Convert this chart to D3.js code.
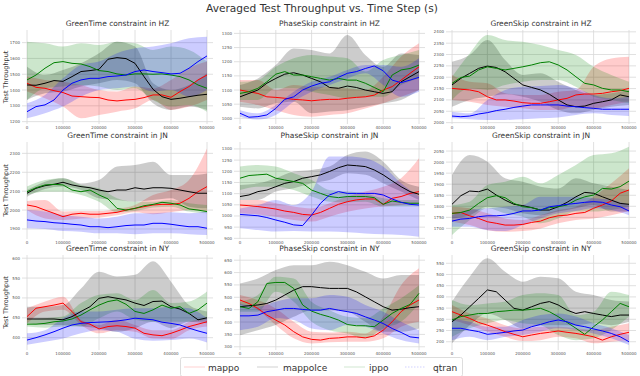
<!DOCTYPE html>
<html>
<head>
<meta charset="utf-8">
<script src="https://cdn.jsdelivr.net/npm/d3@7"></script>
<style>
body { margin: 0; background: #fff; }
svg { display: block; font-family: "DejaVu Sans", sans-serif; }
</style>
</head>
<body>
<svg id="chart" width="640" height="376"></svg>
<script>
// series order in every array: mappo, mappolce, ippo, qtran
var algos = ["mappo", "mappolce", "ippo", "qtran"];
var colors = ["#ff0000", "#000000", "#008000", "#0000ff"];

var steps = d3.range(0, 500001, 25000);      // mean line points
var bandSteps = d3.range(0, 500001, 50000);  // band points
var xTicks = [0, 100000, 200000, 300000, 400000, 500000];

// ---- HZ / GreenTime
var hzGreenTimeTicks = [1200, 1300, 1400, 1500, 1600, 1700];
var hzGreenTimeMean = [
	[1443,1417,1411,1396,1384,1362,1358,1354,1352,1337,1331,1337,1341,1352,1369,1369,1354,1390,1422,1464,1495],
	[1432,1430,1443,1460,1455,1485,1517,1523,1531,1595,1605,1599,1569,1485,1405,1358,1341,1348,1358,1367,1373],
	[1464,1495,1538,1573,1580,1569,1565,1548,1523,1517,1502,1495,1502,1502,1500,1502,1495,1485,1464,1432,1411],
	[1263,1295,1306,1337,1400,1443,1464,1474,1474,1485,1489,1495,1517,1527,1517,1510,1502,1506,1538,1580,1616]
];
var hzGreenTimeLo = [
	[1390,1348,1295,1221,1242,1263,1284,1337,1274,1295,1337],
	[1337,1379,1390,1422,1443,1464,1443,1316,1274,1295,1274],
	[1337,1411,1422,1432,1422,1400,1411,1337,1295,1306,1263],
	[1221,1253,1295,1358,1400,1411,1422,1390,1400,1358,1400]
];
var hzGreenTimeHi = [
	[1485,1464,1453,1432,1400,1390,1422,1411,1464,1538,1580],
	[1548,1495,1527,1569,1633,1706,1675,1443,1400,1432,1506],
	[1706,1696,1675,1696,1685,1706,1696,1654,1675,1654,1580],
	[1316,1369,1474,1559,1580,1633,1664,1675,1696,1727,1738]
];

// ---- HZ / PhaseSkip
var hzPhaseSkipTicks = [1000, 1050, 1100, 1150, 1200, 1250, 1300];
var hzPhaseSkipMean = [
	[1100,1094,1088,1076,1074,1071,1067,1065,1062,1065,1067,1067,1071,1074,1076,1082,1100,1112,1135,1159,1182],
	[1076,1088,1100,1124,1141,1156,1161,1153,1141,1129,1109,1106,1114,1109,1100,1094,1088,1094,1129,1147,1165],
	[1088,1094,1106,1129,1156,1165,1153,1153,1147,1141,1135,1141,1135,1135,1124,1109,1094,1153,1171,1176,1188],
	[1018,1004,1006,1012,1035,1067,1076,1100,1114,1124,1129,1145,1159,1165,1176,1185,1168,1135,1126,1135,1145]
];
var hzPhaseSkipLo = [
	[1059,1047,1029,1012,1006,1012,1018,1035,1053,1076,1100],
	[1041,1035,1053,1059,1018,1024,1029,1041,1053,1065,1100],
	[1065,1065,1106,1106,1094,1082,1071,1076,1076,1118,1141],
	[1006,996,1012,1059,1094,1118,1141,1159,1118,1076,1094]
];
var hzPhaseSkipHi = [
	[1135,1135,1100,1118,1112,1112,1106,1100,1147,1218,1265],
	[1118,1141,1188,1247,1241,1229,1294,1224,1182,1229,1224],
	[1129,1135,1182,1212,1224,1218,1212,1165,1206,1224,1241],
	[1029,1018,1047,1094,1129,1147,1171,1188,1188,1182,1212]
];

// ---- HZ / GreenSkip
var hzGreenSkipTicks = [2000, 2050, 2100, 2150, 2200, 2250, 2300, 2350, 2400];
var hzGreenSkipMean = [
	[2151,2147,2144,2136,2114,2100,2100,2095,2088,2085,2085,2092,2100,2107,2122,2126,2126,2129,2136,2141,2151],
	[2166,2195,2217,2239,2249,2243,2224,2195,2166,2155,2144,2125,2100,2078,2070,2073,2085,2092,2100,2122,2114],
	[2173,2199,2205,2232,2246,2239,2232,2239,2246,2254,2264,2268,2254,2232,2202,2173,2166,2151,2144,2144,2136],
	[2029,2026,2029,2038,2044,2053,2059,2067,2073,2078,2078,2078,2078,2073,2070,2066,2063,2059,2059,2059,2059]
];
var hzGreenSkipLo = [
	[2100,2092,2078,2070,2063,2056,2056,2070,2063,2078,2092],
	[2070,2100,2114,2125,2114,2092,2056,2041,2056,2070,2078],
	[2100,2151,2144,2166,2180,2188,2188,2158,2114,2100,2085],
	[2019,2015,2012,2012,2015,2019,2023,2034,2041,2034,2029]
];
var hzGreenSkipHi = [
	[2210,2180,2173,2129,2122,2122,2136,2144,2246,2283,2290],
	[2268,2298,2364,2276,2210,2217,2180,2144,2122,2129,2144],
	[2202,2305,2386,2364,2356,2342,2320,2298,2246,2210,2180],
	[2048,2041,2100,2144,2158,2161,2166,2151,2122,2107,2114]
];

// ---- JN / GreenTime
var jnGreenTimeTicks = [1900, 2000, 2100, 2200, 2300];
var jnGreenTimeMean = [
	[2027,2018,2000,1983,1965,1978,1983,1978,1978,1983,1988,2000,2009,2018,2027,2030,2030,2036,2062,2097,2124],
	[2089,2115,2129,2136,2147,2133,2124,2118,2106,2097,2106,2106,2118,2111,2118,2118,2115,2106,2097,2089,2089],
	[2097,2118,2133,2136,2133,2106,2097,2106,2080,2059,2009,2000,2009,2023,2030,2041,2036,2027,2006,2000,1992],
	[1948,1942,1939,1933,1930,1925,1921,1912,1912,1907,1912,1918,1921,1921,1930,1930,1925,1918,1912,1912,1904]
];
var jnGreenTimeLo = [
	[2000,1956,1948,1956,1960,1972,1988,1978,1988,2000,1992],
	[2071,2111,2124,2106,2062,2053,2044,2053,2062,2018,2009],
	[2080,2097,2097,2080,2044,1988,1995,2013,2018,1992,1983],
	[1904,1900,1889,1886,1877,1877,1872,1877,1877,1872,1868]
];
var jnGreenTimeHi = [
	[2048,2053,1992,1995,1995,2006,2027,2080,2106,2159,2326],
	[2106,2150,2168,2141,2159,2230,2238,2256,2185,2185,2194],
	[2124,2159,2168,2133,2115,2062,2044,2044,2053,2036,2027],
	[2000,1992,1974,1965,1956,1965,1983,1983,1988,1983,1992]
];

// ---- JN / PhaseSkip
var jnPhaseSkipTicks = [900, 950, 1000, 1050, 1100, 1150, 1200, 1250, 1300];
var jnPhaseSkipMean = [
	[1049,1046,1042,1037,1031,1022,1016,1007,1004,1016,1034,1052,1064,1072,1076,1076,1052,1079,1087,1101,1109],
	[1087,1094,1109,1116,1131,1146,1154,1169,1176,1184,1199,1216,1228,1225,1221,1206,1184,1157,1131,1109,1097],
	[1169,1181,1184,1187,1169,1161,1154,1146,1116,1101,1087,1082,1087,1087,1087,1082,1052,1067,1061,1057,1057],
	[1007,1004,1001,993,982,972,960,957,1004,1057,1094,1109,1101,1101,1101,1101,1094,1076,1061,1052,1049]
];
var jnPhaseSkipLo = [
	[1012,1007,997,982,975,997,1019,1034,1042,1049,1057],
	[1072,1072,1109,1124,1146,1161,1191,1184,1146,1109,1072],
	[1116,1131,1131,1116,1087,1064,1061,1064,1042,1042,1042],
	[945,937,930,933,930,930,927,922,918,915,907]
];
var jnPhaseSkipHi = [
	[1072,1072,1057,1042,1034,1057,1087,1109,1131,1169,1258],
	[1139,1146,1169,1199,1206,1221,1273,1288,1243,1161,1131],
	[1221,1228,1221,1191,1161,1116,1109,1101,1079,1072,1072],
	[1034,1049,1072,1049,1109,1266,1266,1258,1221,1146,1087]
];

// ---- JN / GreenSkip
var jnGreenSkipTicks = [1700, 1750, 1800, 1850, 1900, 1950, 2000, 2050];
var jnGreenSkipMean = [
	[1768,1772,1757,1745,1730,1723,1715,1715,1718,1727,1733,1748,1757,1760,1768,1772,1791,1806,1824,1859,1874],
	[1809,1848,1869,1866,1878,1851,1828,1809,1803,1794,1783,1783,1798,1818,1843,1863,1859,1843,1828,1813,1809],
	[1768,1772,1783,1813,1839,1848,1839,1813,1798,1794,1783,1794,1798,1806,1828,1843,1851,1881,1878,1889,1914],
	[1733,1742,1745,1753,1757,1757,1760,1768,1779,1779,1783,1798,1803,1809,1813,1818,1821,1818,1806,1798,1779]
];
var jnGreenSkipLo = [
	[1730,1715,1692,1685,1688,1700,1723,1738,1745,1760,1779],
	[1745,1760,1798,1791,1768,1760,1776,1791,1806,1776,1776],
	[1670,1738,1791,1768,1753,1723,1745,1776,1776,1783,1798],
	[1708,1708,1692,1688,1715,1745,1768,1779,1791,1783,1760]
];
var jnGreenSkipHi = [
	[1798,1791,1768,1745,1738,1760,1783,1798,1843,1904,1972],
	[1942,2032,2002,1927,1911,1889,1881,1927,1904,1889,1874],
	[1806,1821,1896,1911,1934,1904,1942,1987,2032,2040,2070],
	[1760,1783,1791,1798,1806,1843,1843,1843,1836,1828,1806]
];

// ---- NY / GreenTime
var nyGreenTimeTicks = [400, 450, 500, 550, 600];
var nyGreenTimeMean = [
	[453,474,478,482,487,466,440,434,422,428,430,428,424,411,407,405,411,419,428,434,440],
	[447,447,447,447,445,453,466,478,499,503,499,495,487,481,491,492,478,472,461,445,450],
	[434,434,436,440,442,447,457,470,482,491,495,484,466,461,470,482,474,478,461,470,487],
	[394,400,407,415,424,432,436,438,439,440,442,445,449,447,445,439,436,432,424,417,411]
];
var nyGreenTimeLo = [
	[436,466,470,432,411,419,415,398,397,419,428],
	[436,432,432,428,424,415,424,440,424,440,436],
	[428,425,428,428,449,466,445,440,440,440,445],
	[382,390,398,411,419,415,397,392,394,398,388]
];
var nyGreenTimeHi = [
	[474,491,503,445,432,445,432,419,419,440,449],
	[478,478,482,524,566,554,558,592,541,482,466],
	[445,449,453,487,508,512,495,520,487,491,516],
	[411,419,449,466,466,470,474,474,478,474,449]
];

// ---- NY / PhaseSkip
var nyPhaseSkipTicks = [300, 350, 400, 450, 500, 550, 600, 650];
var nyPhaseSkipMean = [
	[489,475,455,428,408,388,361,340,330,327,334,336,340,340,336,344,367,401,442,469,489],
	[462,466,469,475,489,509,529,543,543,539,536,536,536,522,502,482,462,448,452,458,462],
	[462,455,482,556,560,560,536,469,444,431,421,408,390,385,385,381,408,435,455,471,516],
	[425,425,428,442,448,455,455,451,448,448,455,448,442,435,421,408,394,374,358,340,336]
];
var nyPhaseSkipLo = [
	[469,448,388,334,313,318,320,320,334,381,401],
	[347,367,388,421,448,448,442,401,361,361,374],
	[442,442,522,482,401,367,354,334,374,401,475],
	[367,381,415,408,374,367,388,381,354,327,313]
];
var nyPhaseSkipHi = [
	[509,489,455,401,361,358,361,354,421,549,617],
	[556,576,610,630,630,644,630,603,576,590,590],
	[482,509,583,576,482,448,421,415,455,496,549],
	[475,462,482,496,496,509,502,469,442,401,367]
];

// ---- NY / GreenSkip
var nyGreenSkipTicks = [200, 250, 300, 350, 400, 450, 500, 550];
var nyGreenSkipMean = [
	[334,319,304,286,274,260,245,233,222,230,237,242,248,242,237,230,222,207,222,233,242],
	[289,319,356,393,431,423,386,349,341,356,371,379,364,341,326,334,326,319,312,319,319],
	[297,312,319,326,326,334,337,341,341,344,349,334,312,286,260,233,267,297,334,371,356],
	[260,260,252,245,233,237,242,248,252,267,277,289,297,289,274,267,257,248,237,222,200]
];
var nyGreenSkipLo = [
	[297,274,245,222,203,207,222,215,193,200,207],
	[193,274,326,297,260,274,274,274,282,274,289],
	[222,260,282,297,282,274,230,207,215,252,312],
	[207,222,207,222,230,245,260,252,237,215,185]
];
var nyGreenSkipHi = [
	[364,326,304,274,260,267,267,260,252,267,282],
	[379,490,572,512,468,490,483,423,408,386,379],
	[386,364,371,379,408,416,408,319,334,423,408],
	[304,289,267,267,297,319,326,312,282,260,230]
];

var panels = [
	{title: "GreenTime constraint in HZ", mean: hzGreenTimeMean, lo: hzGreenTimeLo, hi: hzGreenTimeHi, ticks: hzGreenTimeTicks, domain: [1185, 1780]},
	{title: "PhaseSkip constraint in HZ", mean: hzPhaseSkipMean, lo: hzPhaseSkipLo, hi: hzPhaseSkipHi, ticks: hzPhaseSkipTicks, domain: [980, 1312]},
	{title: "GreenSkip constraint in HZ", mean: hzGreenSkipMean, lo: hzGreenSkipLo, hi: hzGreenSkipHi, ticks: hzGreenSkipTicks, domain: [1994, 2408]},
	{title: "GreenTime constraint in JN", mean: jnGreenTimeMean, lo: jnGreenTimeLo, hi: jnGreenTimeHi, ticks: jnGreenTimeTicks, domain: [1847, 2360]},
	{title: "PhaseSkip constraint in JN", mean: jnPhaseSkipMean, lo: jnPhaseSkipLo, hi: jnPhaseSkipHi, ticks: jnPhaseSkipTicks, domain: [897, 1331]},
	{title: "GreenSkip constraint in JN", mean: jnGreenSkipMean, lo: jnGreenSkipLo, hi: jnGreenSkipHi, ticks: jnGreenSkipTicks, domain: [1652, 2091]},
	{title: "GreenTime constraint in NY", mean: nyGreenTimeMean, lo: nyGreenTimeLo, hi: nyGreenTimeHi, ticks: nyGreenTimeTicks, domain: [369, 608]},
	{title: "PhaseSkip constraint in NY", mean: nyPhaseSkipMean, lo: nyPhaseSkipLo, hi: nyPhaseSkipHi, ticks: nyPhaseSkipTicks, domain: [287, 671]},
	{title: "GreenSkip constraint in NY", mean: nyGreenSkipMean, lo: nyGreenSkipLo, hi: nyGreenSkipHi, ticks: nyGreenSkipTicks, domain: [163, 587]}
];

// layout of the 3x3 grid
var cols = [
	{x0: 27, x1: 207, left: 22, right: 213},
	{x0: 240, x1: 419, left: 234, right: 425},
	{x0: 452, x1: 629, left: 446, right: 636}
];
var rows = [
	{top: 30, bottom: 124},
	{top: 142, bottom: 239},
	{top: 255, bottom: 350}
];

var svg = d3.select("#chart");

svg.append("text")
	.attr("x", 322)
	.attr("y", 12)
	.attr("text-anchor", "middle")
	.attr("font-size", 10.6)
	.attr("fill", "#333")
	.text("Averaged Test Throughput vs. Time Step (s)");

panels.forEach(function(p, i) {
	var c = cols[i % 3], r = rows[Math.floor(i / 3)];
	var x = d3.scaleLinear().domain([0, 500000]).range([c.x0, c.x1]);
	var y = d3.scaleLinear().domain(p.domain).range([r.bottom, r.top]);
	var g = svg.append("g");

	g.append("clipPath").attr("id", "clip" + i)
		.append("rect")
		.attr("x", c.left).attr("y", r.top)
		.attr("width", c.right - c.left).attr("height", r.bottom - r.top);

	// grid
	g.selectAll(".vg").data(xTicks).enter().append("line")
		.attr("x1", function(d) { return x(d); })
		.attr("x2", function(d) { return x(d); })
		.attr("y1", r.top).attr("y2", r.bottom)
		.attr("stroke", "#d8d8d8").attr("stroke-width", 0.8);
	g.selectAll(".hg").data(p.ticks).enter().append("line")
		.attr("x1", c.left).attr("x2", c.right)
		.attr("y1", function(d) { return y(d); })
		.attr("y2", function(d) { return y(d); })
		.attr("stroke", "#d8d8d8").attr("stroke-width", 0.8);

	// tick labels
	g.selectAll(".yt").data(p.ticks).enter().append("text")
		.attr("x", c.left - 2)
		.attr("y", function(d) { return y(d) + 1.5; })
		.attr("text-anchor", "end")
		.attr("font-size", 4)
		.attr("fill", "#555")
		.text(function(d) { return d; });
	g.selectAll(".xt").data(xTicks).enter().append("text")
		.attr("x", function(d) { return x(d); })
		.attr("y", r.bottom + 5)
		.attr("text-anchor", "middle")
		.attr("font-size", 4)
		.attr("fill", "#555")
		.text(function(d) { return d; });

	var plot = g.append("g").attr("clip-path", "url(#clip" + i + ")");

	var area = d3.area()
		.x(function(d) { return x(d.s); })
		.y0(function(d) { return y(d.lo); })
		.y1(function(d) { return y(d.hi); })
		.curve(d3.curveMonotoneX);
	var line = d3.line()
		.x(function(d) { return x(d.s); })
		.y(function(d) { return y(d.v); });

	algos.forEach(function(a, k) {
		var band = bandSteps.map(function(s, j) { return {s: s, lo: p.lo[k][j], hi: p.hi[k][j]}; });
		plot.append("path")
			.attr("d", area(band))
			.attr("fill", colors[k])
			.attr("fill-opacity", 0.2);
	});
	algos.forEach(function(a, k) {
		var pts = steps.map(function(s, j) { return {s: s, v: p.mean[k][j]}; });
		plot.append("path")
			.attr("d", line(pts))
			.attr("fill", "none")
			.attr("stroke", colors[k])
			.attr("stroke-width", 1);
	});

	g.append("text")
		.attr("x", (c.left + c.right) / 2)
		.attr("y", r.top - 4)
		.attr("text-anchor", "middle")
		.attr("font-size", 7.5)
		.attr("fill", "#333")
		.text(p.title);

	if (i % 3 == 0) {
		g.append("text")
			.attr("transform", "translate(8," + ((r.top + r.bottom) / 2) + ") rotate(-90)")
			.attr("text-anchor", "middle")
			.attr("font-size", 6.5)
			.attr("fill", "#333")
			.text("Test Throughput");
	}
});

// legend
var legend = svg.append("g");
legend.append("rect")
	.attr("x", 180.5).attr("y", 357.5)
	.attr("width", 282).attr("height", 19)
	.attr("rx", 2)
	.attr("fill", "#fff").attr("stroke", "#ddd");
var legX = [184, 257, 344, 405];
var legTextX = [208, 283, 369, 433];
algos.forEach(function(a, k) {
	legend.append("line")
		.attr("x1", legX[k]).attr("x2", legX[k] + 21)
		.attr("y1", 367).attr("y2", 367)
		.attr("stroke", colors[k])
		.attr("stroke-opacity", 0.18)
		.attr("stroke-dasharray", k == 3 ? "1.5,1.5" : null);
	legend.append("text")
		.attr("x", legTextX[k]).attr("y", 370.5)
		.attr("font-size", 9)
		.attr("fill", "#333")
		.text(a);
});
</script>
</body>
</html>
